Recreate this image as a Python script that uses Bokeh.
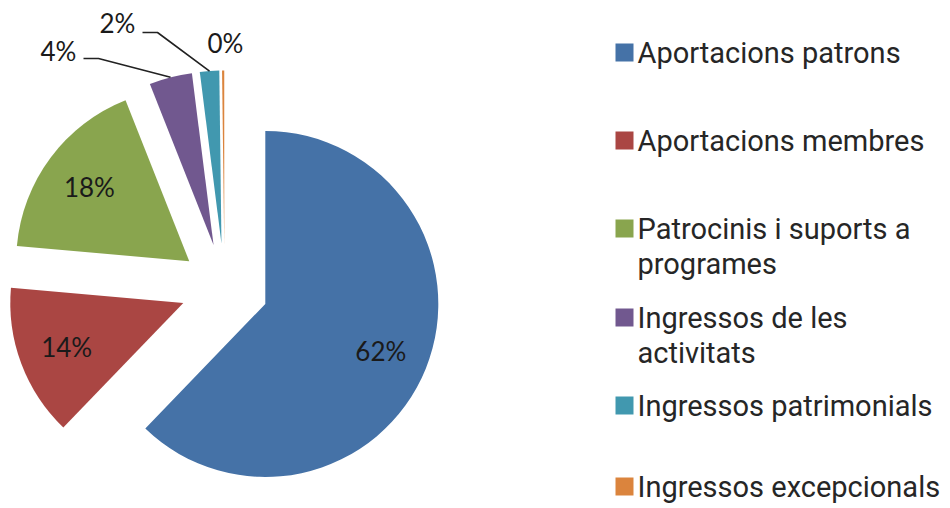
import numpy as np
from bokeh.plotting import figure
from bokeh.models import Range1d
from bokeh.embed import file_html
from bokeh.resources import INLINE
from bokeh.core.properties import value

# ---- data ----
categories = ["Aportacions patrons", "Aportacions membres",
              "Patrocinis i suports a programes", "Ingressos de les activitats",
              "Ingressos patrimonials", "Ingressos excepcionals"]
legend_lines = [["Aportacions patrons"], ["Aportacions membres"],
                ["Patrocinis i suports a", "programes"],
                ["Ingressos de les", "activitats"],
                ["Ingressos patrimonials"], ["Ingressos excepcionals"]]
shares = [62.2, 14.2, 17.6, 4.0, 1.8, 0.2]
colors = ["#4572A7", "#AA4643", "#89A54E", "#71588F", "#4198AF", "#DB843D"]

# ---- layout ----
W, H = 950, 508
CX, CY = 224, 287          # pie centre (pixels, y down)
R = 173                    # radius
EXPLODE = 44               # explosion distance
INSIDE = 0.72              # inside label radius fraction
outside_labels = {3: (58, 50), 4: (117, 22), 5: (225, 42)}
leader_elbows = {3: [(83, 58), (98, 58)], 4: [(142, 32), (157, 32)]}
legend_row_y = [52, 140, 228, 317, 405, 486]
LINE_GAP = 35

def Y(y):
    return H - y

p = figure(width=W, height=H, x_range=Range1d(0, W), y_range=Range1d(0, H),
           output_backend="svg", toolbar_location=None, min_border=0,
           x_axis_location=None, y_axis_location=None, outline_line_color=None)
p.grid.visible = False
p.background_fill_color = "white"

total = sum(shares)
cum = 0.0
lab_font = value("Lato")
for i, v in enumerate(shares):
    a0 = cum / total * 2 * np.pi
    cum += v
    a1 = cum / total * 2 * np.pi
    mid = (a0 + a1) / 2
    vx = CX + EXPLODE * np.sin(mid)
    vy = CY - EXPLODE * np.cos(mid)
    p.wedge(x=[vx], y=[Y(vy)], radius=R,
            start_angle=np.pi / 2 - a0, end_angle=np.pi / 2 - a1,
            direction="clock", fill_color=colors[i], line_color=None)
    pct = f"{round(v / total * 100)}%"
    if i in outside_labels:
        lx, ly = outside_labels[i]
        p.text(x=[lx], y=[Y(ly)], text=[pct], text_font=lab_font,
               text_font_size="26px", text_color="#1a1a1a",
               text_align="center", text_baseline="middle")
        if i in leader_elbows:
            ax = vx + R * np.sin(mid)
            ay = vy - R * np.cos(mid)
            pts = leader_elbows[i] + [(ax, ay)]
            p.line(x=[q[0] for q in pts], y=[Y(q[1]) for q in pts],
                   line_color="#222222", line_width=1.6)
    else:
        lx = vx + INSIDE * R * np.sin(mid)
        ly = vy - INSIDE * R * np.cos(mid)
        p.text(x=[lx], y=[Y(ly)], text=[pct], text_font=lab_font,
               text_font_size="26px", text_color="#1a1a1a",
               text_align="center", text_baseline="middle")

# ---- legend ----
for i, lines in enumerate(legend_lines):
    ry = legend_row_y[i]
    p.rect(x=[624], y=[Y(ry)], width=18, height=18, width_units="screen",
           height_units="screen", fill_color=colors[i], line_color=None)
    for j, t in enumerate(lines):
        p.text(x=[637], y=[Y(ry + j * LINE_GAP)], text=[t],
               text_font=value("Roboto"), text_font_size="29px",
               text_color="#262626", text_align="left", text_baseline="middle")

open("out.html", "w").write(file_html(p, INLINE))
